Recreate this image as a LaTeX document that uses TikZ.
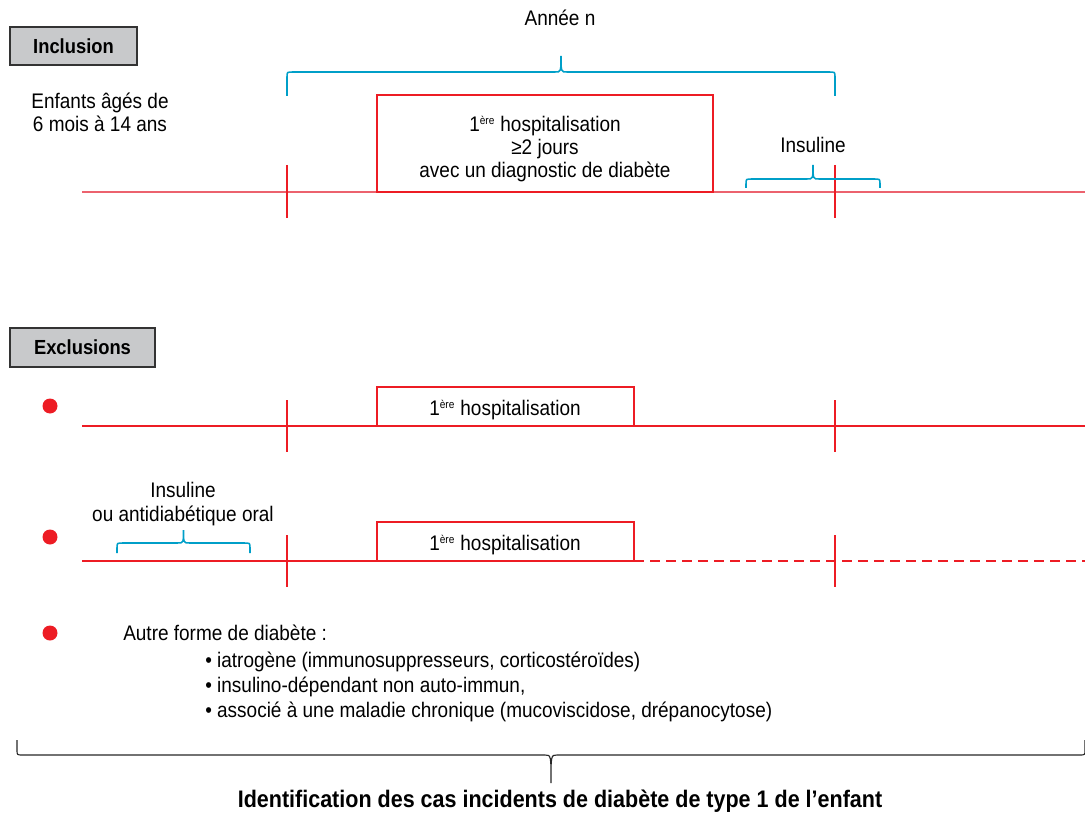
\documentclass[tikz,border=0pt]{standalone}
\usepackage{fontspec}
\setmainfont[FakeStretch=0.9]{Liberation Sans}
\usetikzlibrary{positioning}
\definecolor{tlred}{RGB}{237,28,36}
\definecolor{tlpink}{RGB}{236,98,110}
\definecolor{brblue}{RGB}{0,159,200}
\definecolor{boxgray}{RGB}{200,201,203}
\tikzset{every node/.style={font=\fontsize{15}{16.5}\selectfont, inner sep=0pt},
  tagbox/.style={draw=black!80, fill=boxgray, line width=1pt, font=\fontsize{14.5}{16}\selectfont\bfseries},
  hospbox/.style={draw=tlred, line width=0.9pt},
  tline/.style={line width=1.3pt},
  tick/.style={tlred, line width=1.1pt},
  curly/.style={brblue, line width=1.1pt},
  dot/.style={circle, fill=tlred, minimum size=15*0.025cm}}
\newcommand{\ere}{\textsuperscript{\fontsize{8}{8}\selectfont ère}}
% curly brace: x1, x2, y of arms, y of bar, y of tip
\newcommand{\curlypath}[6][curly]{%
  \pgfmathsetmacro\cbm{(#2+#3)/2}%
  \pgfmathsetmacro\cbk{#5+5*sign(#4-#5)}%
  \draw[#1] (#2,#4) -- (#2,\cbk) .. controls (#2,#5) .. (#2+6,#5) -- (\cbm-6,#5)
    .. controls (\cbm,#5) .. (\cbm,#6) .. controls (\cbm,#5) .. (\cbm+6,#5)
    -- (#3-6,#5) .. controls (#3,#5) .. (#3,\cbk) -- (#3,#4);}
\begin{document}
\begin{tikzpicture}[x=0.025cm,y=-0.025cm]
  \useasboundingbox (0,0) rectangle (1085,814);

  % inclusion
  \node[tagbox, minimum width=127*0.025cm, minimum height=38*0.025cm] (incl) at (73.5,46) {Inclusion};
  \node[align=center] (enfants) at (100,112) {Enfants âgés de\\6 mois à 14 ans};
  \node (annee) at (560,18) {Année n};
  \curlypath{287}{835}{96}{72}{56}
  \coordinate (l1a) at (82,192);
  \coordinate (l1b) at (1085,192);
  \draw[tline, tlpink] (l1a) -- (l1b);
  \foreach \x in {287,835} \draw[tick] (\x,165) -- (\x,218);
  \node[hospbox, minimum width=336*0.025cm, minimum height=97*0.025cm] (hosp1) at (545,143.5) {};
  \node[align=center, font=\fontsize{15}{16.3}\selectfont] (hosp1t) at (545,149)
    {1\ere{} hospitalisation\\≥2 jours\\avec un diagnostic de diabète};
  \node (insul1) at (813,145) {Insuline};
  \curlypath{746}{880}{188}{179}{165}

  % exclusions
  \node[tagbox, minimum width=145*0.025cm, minimum height=39*0.025cm] (excl) at (82.5,347.5) {Exclusions};

  \node[dot] (d1) at (50,406) {};
  \coordinate (l2a) at (82,426);
  \coordinate (l2b) at (1085,426);
  \draw[tline, tlred] (l2a) -- (l2b);
  \foreach \x in {287,835} \draw[tick] (\x,400) -- (\x,452);
  \node[hospbox, minimum width=257*0.025cm, minimum height=39*0.025cm] (hosp2) at (505.5,406.5) {};
  \node (hosp2t) at (505,410) {1\ere{} hospitalisation};

  \node[dot] (d2) at (50,537) {};
  \node[align=center] (insul2) at (183,504) {Insuline\\ou antidiabétique oral};
  \curlypath{117}{250}{553}{543}{530}
  \coordinate (l3a) at (82,561);
  \coordinate (l3m) at (634,561);
  \coordinate (l3b) at (1085,561);
  \draw[tline, tlred] (l3a) -- (l3m);
  \draw[tline, tlred, line width=1pt, dash pattern=on 10*0.025cm off 6*0.025cm] (l3m) -- (l3b);
  \foreach \x in {287,835} \draw[tick] (\x,535) -- (\x,587);
  \node[hospbox, minimum width=257*0.025cm, minimum height=39*0.025cm] (hosp3) at (505.5,541.5) {};
  \node (hosp3t) at (505,545) {1\ere{} hospitalisation};

  \node[dot] (d3) at (50,633) {};
  \node[anchor=west] (autre) at (123,633) {Autre forme de diabète :};
  \node[anchor=west] (it1) at (205,662) {• iatrogène (immunosuppresseurs, corticostéroïdes)};
  \node[anchor=west] (it2) at (205,687) {• insulino-dépendant non auto-immun,};
  \node[anchor=west] (it3) at (205,712) {• associé à une maladie chronique (mucoviscidose, drépanocytose)};

  % bottom
  \curlypath[black!85, line width=0.8pt]{17}{1085}{740}{755}{783}
  \node[font=\fontsize{17}{19}\selectfont\bfseries] (ident) at (560,801)
    {Identification des cas incidents de diabète de type 1 de l’enfant};
\end{tikzpicture}
\end{document}
